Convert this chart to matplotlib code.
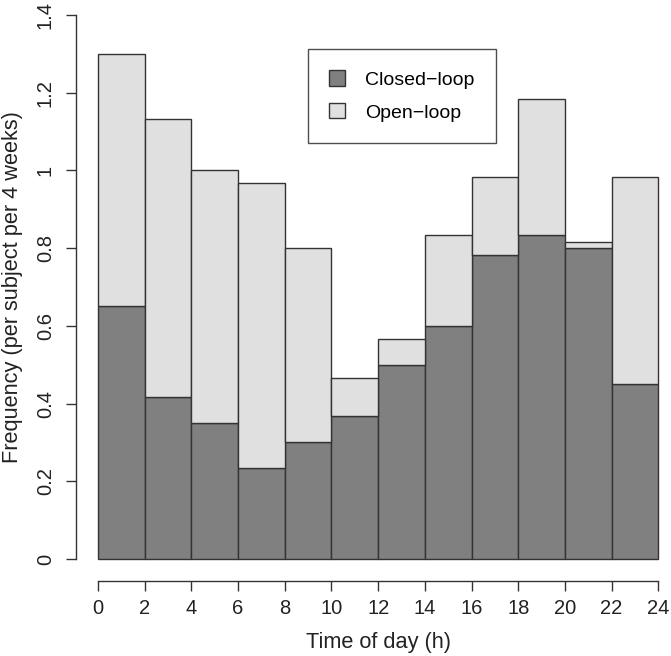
import numpy as np
import matplotlib
matplotlib.use("Agg")
from matplotlib import pyplot as plt
from matplotlib.patches import Patch

plt.rcParams['font.family'] = ['Liberation Sans', 'DejaVu Sans']

# 2-hour bins
bin_start = [0, 2, 4, 6, 8, 10, 12, 14, 16, 18, 20, 22]
closed_loop = [0.65, 0.417, 0.35, 0.233, 0.30, 0.367, 0.50, 0.60, 0.783, 0.833, 0.80, 0.45]
total = [1.30, 1.133, 1.00, 0.967, 0.80, 0.467, 0.567, 0.833, 0.983, 1.183, 0.817, 0.983]
open_loop = [t - c for t, c in zip(total, closed_loop)]

x_ticks = list(range(0, 25, 2))
y_ticks = [0, 0.2, 0.4, 0.6, 0.8, 1.0, 1.2, 1.4]
y_tick_labels = ['0', '0.2', '0.4', '0.6', '0.8', '1', '1.2', '1.4']

W, H = 671, 656
fig = plt.figure(figsize=(W / 100, H / 100), dpi=100)
# R-like plot region (4% axis extension), partly beyond the figure edge
left, right, bottom, top = 75.6, 680.7, 580.8, -6.8
ax = fig.add_axes([left / W, (H - bottom) / H, (right - left) / W, (bottom - top) / H])

ax.bar(bin_start, closed_loop, width=2, align='edge', color='#808080',
       edgecolor='#333333', linewidth=1.0)
ax.bar(bin_start, open_loop, width=2, bottom=closed_loop, align='edge', color='#e0e0e0',
       edgecolor='#333333', linewidth=1.0)

ax.set_xlim(-0.96, 24.96)
ax.set_ylim(-0.056, 1.456)

for s in ['top', 'right']:
    ax.spines[s].set_visible(False)
ax.spines['left'].set_bounds(0, 1.4)
ax.spines['bottom'].set_bounds(0, 24)
for s in ['left', 'bottom']:
    ax.spines[s].set_color('#333333')
    ax.spines[s].set_linewidth(1.0)

ax.set_xticks(x_ticks)
ax.set_yticks(y_ticks)
ax.set_yticklabels(y_tick_labels, rotation=90, va='center')
ax.tick_params(axis='both', length=7, width=1.0, color='#333333', labelsize=14.5,
               labelcolor='#222222')
ax.tick_params(axis='x', pad=6)
ax.tick_params(axis='y', pad=8)

ax.set_xlabel('Time of day (h)', fontsize=15.7, color='#222222', labelpad=10)
ax.set_ylabel('Frequency (per subject per 4 weeks)', fontsize=15.7, color='#222222', labelpad=9)

handles = [Patch(facecolor='#808080', edgecolor='#333333', label='Closed\u2212loop'),
           Patch(facecolor='#e0e0e0', edgecolor='#333333', label='Open\u2212loop')]
leg = ax.legend(handles=handles, loc='upper left',
                bbox_to_anchor=((308 - left) / (right - left), (bottom - 49) / (bottom - top)),
                fontsize=14, frameon=True, fancybox=False, edgecolor='#222222',
                handlelength=0.82, handleheight=0.82, handletextpad=1.0, borderpad=1.1,
                labelspacing=0.75, borderaxespad=0)
leg.get_frame().set_linewidth(1.0)

fig.savefig('out.png', dpi=100)
